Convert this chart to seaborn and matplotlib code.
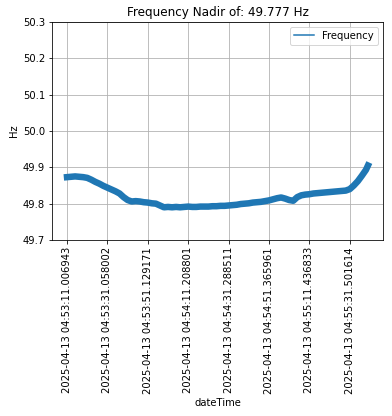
import numpy as np
import pandas as pd
import matplotlib
matplotlib.use("Agg")
import matplotlib.pyplot as plt
import seaborn as sns

# 주파수 데이터 (2초 간격으로 읽은 값)
seconds = [0, 2, 4, 6, 8, 10, 12, 14, 16, 18, 20, 22, 24, 26, 28, 30, 32, 34, 36, 38,
           40, 42, 44, 46, 48, 50, 52, 54, 56, 58, 60, 62, 64, 66, 68, 70, 72, 74, 76, 78,
           80, 82, 84, 86, 88, 90, 92, 94, 96, 98, 100, 102, 104, 106, 108, 110, 112, 114,
           116, 118, 120, 122, 124, 126, 128, 130, 132, 134, 136, 138, 140, 142, 144, 146,
           148, 149]
frequency = [49.873, 49.874, 49.875, 49.874, 49.873, 49.871, 49.866, 49.860, 49.855, 49.849,
             49.844, 49.839, 49.834, 49.828, 49.818, 49.810, 49.806, 49.807, 49.806, 49.804,
             49.803, 49.801, 49.800, 49.795, 49.790, 49.791, 49.790, 49.791, 49.790, 49.791,
             49.792, 49.791, 49.791, 49.792, 49.792, 49.792, 49.793, 49.793, 49.794, 49.794,
             49.795, 49.796, 49.797, 49.799, 49.800, 49.801, 49.803, 49.804, 49.805, 49.807,
             49.809, 49.812, 49.815, 49.817, 49.814, 49.810, 49.808, 49.818, 49.823, 49.825,
             49.826, 49.828, 49.829, 49.830, 49.831, 49.832, 49.833, 49.834, 49.835, 49.836,
             49.840, 49.850, 49.862, 49.877, 49.893, 49.905]

tick_pos = [0, 20, 40, 60, 80, 100, 120, 140]
tick_labels = ["2025-04-13 04:53:11.006943", "2025-04-13 04:53:31.058002",
               "2025-04-13 04:53:51.129171", "2025-04-13 04:54:11.208801",
               "2025-04-13 04:54:31.288511", "2025-04-13 04:54:51.365961",
               "2025-04-13 04:55:11.436833", "2025-04-13 04:55:31.501614"]
nadir = 49.777

df = pd.DataFrame({"t": seconds, "Frequency": frequency})

fig = plt.figure(figsize=(392 / 72, 416 / 72), dpi=72)
ax = fig.add_axes([52 / 392, 1 - 240 / 416, (383 - 52) / 392, (240 - 22) / 416])

sns.lineplot(data=df, x="t", y="Frequency", ax=ax, color="#1f77b4",
             linewidth=6.5, label="Frequency")
ax.set_ylim(49.7, 50.3)
ax.set_xticks(tick_pos)
ax.set_xticklabels(tick_labels, rotation=90)
ax.grid(True)
ax.set_title(f"Frequency Nadir of: {nadir} Hz")
ax.set_xlabel("dateTime")
ax.set_ylabel("Hz")

leg = ax.legend(loc="upper right")
for line in leg.get_lines():
    line.set_linewidth(1.5)

fig.savefig("out.png", dpi=72)
